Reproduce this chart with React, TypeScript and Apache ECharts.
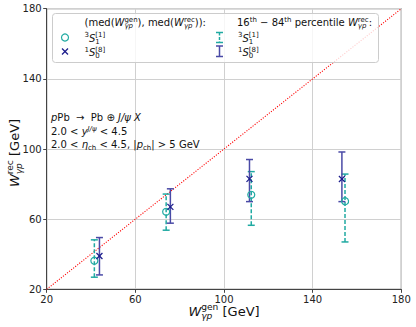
import React, { useEffect, useRef } from "react";
import * as echarts from "echarts";

// ---- data ----
const axisTicks = [20, 60, 100, 140, 180];
const wGen3S1 = [41.5, 73.9, 112.3, 154.6];
const wRec3S1 = [36.3, 64.2, 73.9, 70.6];
const lo3S1 = [26.9, 53.7, 56.5, 47.0];
const hi3S1 = [48.2, 74.3, 87.1, 85.7];
const wGen1S0 = [43.8, 75.8, 111.5, 153.2];
const wRec1S0 = [39.0, 67.0, 83.0, 82.9];
const lo1S0 = [28.2, 57.7, 70.0, 70.0];
const hi1S0 = [49.5, 77.3, 94.0, 98.3];
const diagonal = [
  [20, 20],
  [180, 180],
];

const CYAN = "#20aaa2";
const BLUE = "#1c1c8c";
const BLUE_BAR = "#4a4aa6";
const FONT = '"DejaVu Sans"';
const TXT = "#111";

let ctx: CanvasRenderingContext2D | null = null;
function measure(t: string, size: number, it?: boolean) {
  if (!ctx) ctx = document.createElement("canvas").getContext("2d");
  ctx!.font = `${it ? "italic " : ""}${size}px ${FONT}`;
  return ctx!.measureText(t).width;
}

type Pc = { t: string; it?: boolean; k?: number; dy?: number };
type Piece = Pc | { stack: [Pc, Pc] };
const R = (t: string): Pc => ({ t });
const I = (t: string): Pc => ({ t, it: true });
const Sup = (t: string, it = false): Pc => ({ t, it, k: 0.7, dy: -0.4 });
const Sub = (t: string, it = false): Pc => ({ t, it, k: 0.7, dy: 0.25 });
const Stack = (a: Pc, b: Pc): Piece => ({ stack: [a, b] });

function layout(
  pieces: Piece[],
  S: number,
  color: string,
  x0: number,
  base: number,
  anchor: "left" | "center" = "left"
) {
  const els: any[] = [];
  const wOf = (p: Pc) => measure(p.t, S * (p.k ?? 1), p.it);
  let total = 0;
  for (const p of pieces)
    total += "stack" in p ? Math.max(wOf(p.stack[0]), wOf(p.stack[1])) : wOf(p);
  let x = anchor === "center" ? x0 - total / 2 : x0;
  const put = (p: Pc, xx: number) => {
    const size = S * (p.k ?? 1);
    els.push({
      type: "text",
      z: 100,
      x: xx,
      y: base + (p.dy ?? 0) * S - 0.346 * size,
      style: {
        text: p.t,
        fontSize: size,
        fontFamily: FONT,
        fontStyle: p.it ? "italic" : "normal",
        fill: color,
        align: "left",
        verticalAlign: "middle",
      },
    });
  };
  for (const p of pieces) {
    if ("stack" in p) {
      put(p.stack[0], x);
      put(p.stack[1], x);
      x += Math.max(wOf(p.stack[0]), wOf(p.stack[1]));
    } else {
      put(p, x);
      x += wOf(p);
    }
  }
  return els;
}

function errRender(color: string, dashed: boolean) {
  return (_params: any, api: any) => {
    const x = api.value(0);
    const a = api.coord([x, api.value(1)]);
    const b = api.coord([x, api.value(2)]);
    const cap = 3.5;
    const st = { stroke: color, lineWidth: 1.5, lineDash: dashed ? [4, 2] : null };
    const cs = { stroke: color, lineWidth: 1.5 };
    return {
      type: "group",
      children: [
        { type: "line", shape: { x1: a[0], y1: a[1], x2: b[0], y2: b[1] }, style: st },
        { type: "line", shape: { x1: a[0] - cap, y1: a[1], x2: a[0] + cap, y2: a[1] }, style: cs },
        { type: "line", shape: { x1: b[0] - cap, y1: b[1], x2: b[0] + cap, y2: b[1] }, style: cs },
      ],
    };
  };
}

function circleRender(_params: any, api: any) {
  const p = api.coord([api.value(0), api.value(1)]);
  return {
    type: "circle",
    shape: { cx: p[0], cy: p[1], r: 3.5 },
    style: { fill: "none", stroke: CYAN, lineWidth: 1.2 },
  };
}

function crossRender(_params: any, api: any) {
  const p = api.coord([api.value(0), api.value(1)]);
  const h = 3;
  const s = { stroke: BLUE, lineWidth: 1.2 };
  return {
    type: "group",
    children: [
      { type: "line", shape: { x1: p[0] - h, y1: p[1] - h, x2: p[0] + h, y2: p[1] + h }, style: s },
      { type: "line", shape: { x1: p[0] - h, y1: p[1] + h, x2: p[0] + h, y2: p[1] - h }, style: s },
    ],
  };
}

function legendBar(x: number, y1: number, y2: number, color: string, dashed: boolean) {
  const cap = 3.5;
  return [
    { type: "line", z: 101, shape: { x1: x, y1, x2: x, y2 }, style: { stroke: color, lineWidth: 1.5, lineDash: dashed ? [3, 1.5] : null } },
    { type: "line", z: 101, shape: { x1: x - cap, y1, x2: x + cap, y2: y1 }, style: { stroke: color, lineWidth: 1.5 } },
    { type: "line", z: 101, shape: { x1: x - cap, y1: y2, x2: x + cap, y2 }, style: { stroke: color, lineWidth: 1.5 } },
  ];
}

export default function App() {
  const ref = useRef<HTMLDivElement>(null);
  useEffect(() => {
    if (!ref.current) return;
    const chart = echarts.init(ref.current, undefined, { renderer: "svg" });
    const axisCommon = {
      type: "value",
      min: axisTicks[0],
      max: axisTicks[axisTicks.length - 1],
      interval: axisTicks[1] - axisTicks[0],
      axisLine: { show: true, lineStyle: { color: "#444", width: 1 } },
      axisTick: { show: true, length: 3.5, lineStyle: { color: "#444" } },
      axisLabel: { color: "#222", fontSize: 10, fontFamily: FONT, margin: 5 },
      splitLine: { show: true, lineStyle: { color: "#d0d0d0", width: 1 } },
    };

    const gammaP = I("γp");
    const graphic: any[] = [
      {
        type: "rect",
        z: 99,
        shape: { x: 52.5, y: 13.5, width: 326, height: 49, r: 3 },
        style: { fill: "rgba(255,255,255,0.8)", stroke: "#cccccc", lineWidth: 1 },
      },
      ...layout(
        [R("(med("), I("W"), Stack({ ...R("gen"), k: 0.7, dy: -0.4 }, { ...gammaP, k: 0.7, dy: 0.25 }), R("), med("), I("W"), Stack({ ...R("rec"), k: 0.7, dy: -0.4 }, { ...gammaP, k: 0.7, dy: 0.25 }), R(")):")],
        10, TXT, 84.5, 26
      ),
      ...layout(
        [R("16"), Sup("th"), R(" − 84"), Sup("th"), R(" percentile "), I("W"), Stack({ ...R("rec"), k: 0.7, dy: -0.4 }, { ...gammaP, k: 0.7, dy: 0.25 }), R(":")],
        10, TXT, 237, 26
      ),
      { type: "circle", z: 101, shape: { cx: 65, cy: 37.5, r: 3.5 }, style: { fill: "none", stroke: CYAN, lineWidth: 1.2 } },
      { type: "line", z: 101, shape: { x1: 62, y1: 48.5, x2: 68, y2: 54.5 }, style: { stroke: BLUE, lineWidth: 1.2 } },
      { type: "line", z: 101, shape: { x1: 62, y1: 54.5, x2: 68, y2: 48.5 }, style: { stroke: BLUE, lineWidth: 1.2 } },
      ...legendBar(219.5, 32.5, 42.5, CYAN, true),
      ...legendBar(219.5, 46, 56.5, BLUE_BAR, false),
      ...layout([Sup("3"), I("S"), Stack(Sup("[1]"), Sub("1"))], 10, TXT, 84.5, 41.5),
      ...layout([Sup("1"), I("S"), Stack(Sup("[8]"), Sub("0"))], 10, TXT, 84.5, 56),
      ...layout([Sup("3"), I("S"), Stack(Sup("[1]"), Sub("1"))], 10, TXT, 238, 41.5),
      ...layout([Sup("1"), I("S"), Stack(Sup("[8]"), Sub("0"))], 10, TXT, 238, 56),
      // annotation block
      ...layout([I("p"), R("Pb  →  Pb ⊕ "), I("J/ψ X")], 10, TXT, 51, 121),
      ...layout([R("2.0 < "), I("y"), Sup("J/ψ", true), R(" < 4.5")], 10, TXT, 51, 135),
      ...layout([R("2.0 < "), I("η"), Sub("ch"), R(" < 4.5, |"), I("p"), Sub("ch"), R("| > 5 GeV")], 10, TXT, 51, 148),
      // x axis title
      ...layout([I("W"), Stack({ ...R("gen"), k: 0.7, dy: -0.42 }, { ...gammaP, k: 0.7, dy: 0.28 }), R(" [GeV]")], 13, TXT, 224, 316, "center"),
      // y axis title
      {
        type: "group",
        x: 19,
        y: 153,
        rotation: Math.PI / 2,
        children: layout([I("W"), Stack({ ...R("rec"), k: 0.7, dy: -0.42 }, { ...gammaP, k: 0.7, dy: 0.28 }), R(" [GeV]")], 13, TXT, 0, 0, "center"),
      },
    ];

    chart.setOption({
      animation: false,
      grid: {
        left: 46.7,
        right: 14.7,
        top: 8.7,
        bottom: 37.7,
        show: true,
        borderColor: "#444",
        borderWidth: 1,
        backgroundColor: "transparent",
      },
      xAxis: { ...axisCommon },
      yAxis: { ...axisCommon },
      series: [
        {
          type: "line",
          data: diagonal,
          symbol: "none",
          z: 1,
          lineStyle: { color: "#ff0000", width: 1.1, type: [1.1, 1.5] },
        },
        {
          type: "custom",
          z: 3,
          renderItem: errRender(CYAN, true),
          encode: { x: 0, y: [1, 2] },
          data: wGen3S1.map((x, i) => [x, lo3S1[i], hi3S1[i]]),
        },
        {
          type: "custom",
          z: 4,
          renderItem: errRender(BLUE_BAR, false),
          encode: { x: 0, y: [1, 2] },
          data: wGen1S0.map((x, i) => [x, lo1S0[i], hi1S0[i]]),
        },
        {
          type: "custom",
          z: 5,
          renderItem: circleRender,
          encode: { x: 0, y: 1 },
          data: wGen3S1.map((x, i) => [x, wRec3S1[i]]),
        },
        {
          type: "custom",
          z: 6,
          renderItem: crossRender,
          encode: { x: 0, y: 1 },
          data: wGen1S0.map((x, i) => [x, wRec1S0[i]]),
        },
      ],
      graphic,
    });
    return () => chart.dispose();
  }, []);
  return (
    <div
      ref={ref}
      style={{ position: "fixed", left: 0, top: 0, width: 416, height: 327, background: "#fff" }}
    />
  );
}
